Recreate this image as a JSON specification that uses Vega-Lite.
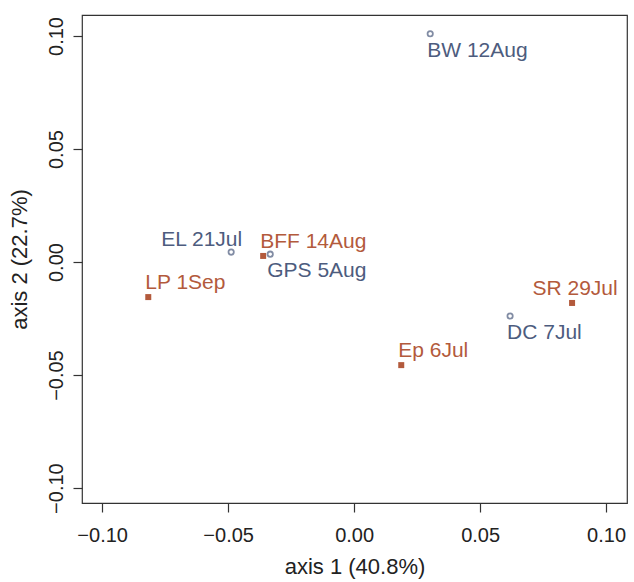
{
  "$schema": "https://vega.github.io/schema/vega-lite/v6.json",
  "autosize": "none",
  "width": 545,
  "height": 488,
  "padding": {"left": 82, "top": 15, "right": 7, "bottom": 79},
  "background": "white",
  "config": {
    "view": {"stroke": "#333333", "strokeWidth": 1.2},
    "font": "Liberation Sans",
    "axis": {
      "grid": false,
      "domain": false,
      "tickColor": "#333333",
      "tickWidth": 1.2,
      "tickSize": 9,
      "labelFont": "Liberation Sans",
      "labelFontSize": 20,
      "labelColor": "#222222",
      "titleFont": "Liberation Sans",
      "titleFontSize": 22,
      "titleFontWeight": "normal",
      "titleColor": "#222222"
    }
  },
  "data": {
    "values": [
      {"site": "BW 12Aug", "x": 0.0302, "y": 0.1010, "group": "circle", "pos": "below"},
      {"site": "EL 21Jul", "x": -0.0488, "y": 0.0044, "group": "circle", "pos": "aboveLeft"},
      {"site": "GPS 5Aug", "x": -0.0333, "y": 0.0035, "group": "circle", "pos": "below"},
      {"site": "DC 7Jul", "x": 0.0619, "y": -0.0239, "group": "circle", "pos": "below"},
      {"site": "BFF 14Aug", "x": -0.0361, "y": 0.0027, "group": "square", "pos": "above"},
      {"site": "LP 1Sep", "x": -0.0817, "y": -0.0155, "group": "square", "pos": "above"},
      {"site": "Ep 6Jul", "x": 0.0187, "y": -0.0456, "group": "square", "pos": "above"},
      {"site": "SR 29Jul", "x": 0.0865, "y": -0.0181, "group": "square", "pos": "aboveCenter"}
    ]
  },
  "encoding": {
    "x": {
      "field": "x", "type": "quantitative",
      "scale": {"domain": [-0.108, 0.1083], "nice": false, "zero": false},
      "axis": {"values": [-0.1, -0.05, 0, 0.05, 0.1], "format": ".2f", "title": "axis 1 (40.8%)", "labelPadding": 13, "titlePadding": 11, "labelExpr": "replace(datum.label, '-', '\u2212')"}
    },
    "y": {
      "field": "y", "type": "quantitative",
      "scale": {"domain": [-0.1066, 0.1093], "nice": false, "zero": false},
      "axis": {"values": [-0.1, -0.05, 0, 0.05, 0.1], "format": ".2f", "title": "axis 2 (22.7%)", "labelAngle": -90, "labelAlign": "center", "labelBaseline": "bottom", "labelPadding": 7, "titlePadding": 15, "labelExpr": "replace(datum.label, '-', '\u2212')"}
    },
    "color": {
      "field": "group", "type": "nominal",
      "scale": {"domain": ["circle", "square"], "range": ["#4d5c7e", "#b35a3c"]},
      "legend": null
    }
  },
  "layer": [
    {
      "transform": [{"filter": "datum.group == 'circle'"}],
      "mark": {"type": "point", "shape": "circle", "filled": false, "size": 28, "strokeWidth": 1.8}
    },
    {
      "transform": [{"filter": "datum.group == 'square'"}],
      "mark": {"type": "square", "size": 36, "opacity": 1}
    },
    {
      "transform": [{"filter": "datum.pos == 'below'"}],
      "mark": {"type": "text", "align": "left", "baseline": "top", "dx": -3, "dy": 6, "fontSize": 21},
      "encoding": {"text": {"field": "site"}, "color": {"field": "group", "type": "nominal", "scale": {"domain": ["circle", "square"], "range": ["#5a6a8c", "#b5603f"]}, "legend": null}}
    },
    {
      "transform": [{"filter": "datum.pos == 'above'"}],
      "mark": {"type": "text", "align": "left", "baseline": "alphabetic", "dx": -3, "dy": -8, "fontSize": 21},
      "encoding": {"text": {"field": "site"}, "color": {"field": "group", "type": "nominal", "scale": {"domain": ["circle", "square"], "range": ["#5a6a8c", "#b5603f"]}, "legend": null}}
    },
    {
      "transform": [{"filter": "datum.pos == 'aboveLeft'"}],
      "mark": {"type": "text", "align": "right", "baseline": "alphabetic", "dx": 11, "dy": -6, "fontSize": 21},
      "encoding": {"text": {"field": "site"}, "color": {"field": "group", "type": "nominal", "scale": {"domain": ["circle", "square"], "range": ["#5a6a8c", "#b5603f"]}, "legend": null}}
    },
    {
      "transform": [{"filter": "datum.pos == 'aboveCenter'"}],
      "mark": {"type": "text", "align": "center", "baseline": "alphabetic", "dx": 3, "dy": -8, "fontSize": 21},
      "encoding": {"text": {"field": "site"}, "color": {"field": "group", "type": "nominal", "scale": {"domain": ["circle", "square"], "range": ["#5a6a8c", "#b5603f"]}, "legend": null}}
    }
  ]
}
